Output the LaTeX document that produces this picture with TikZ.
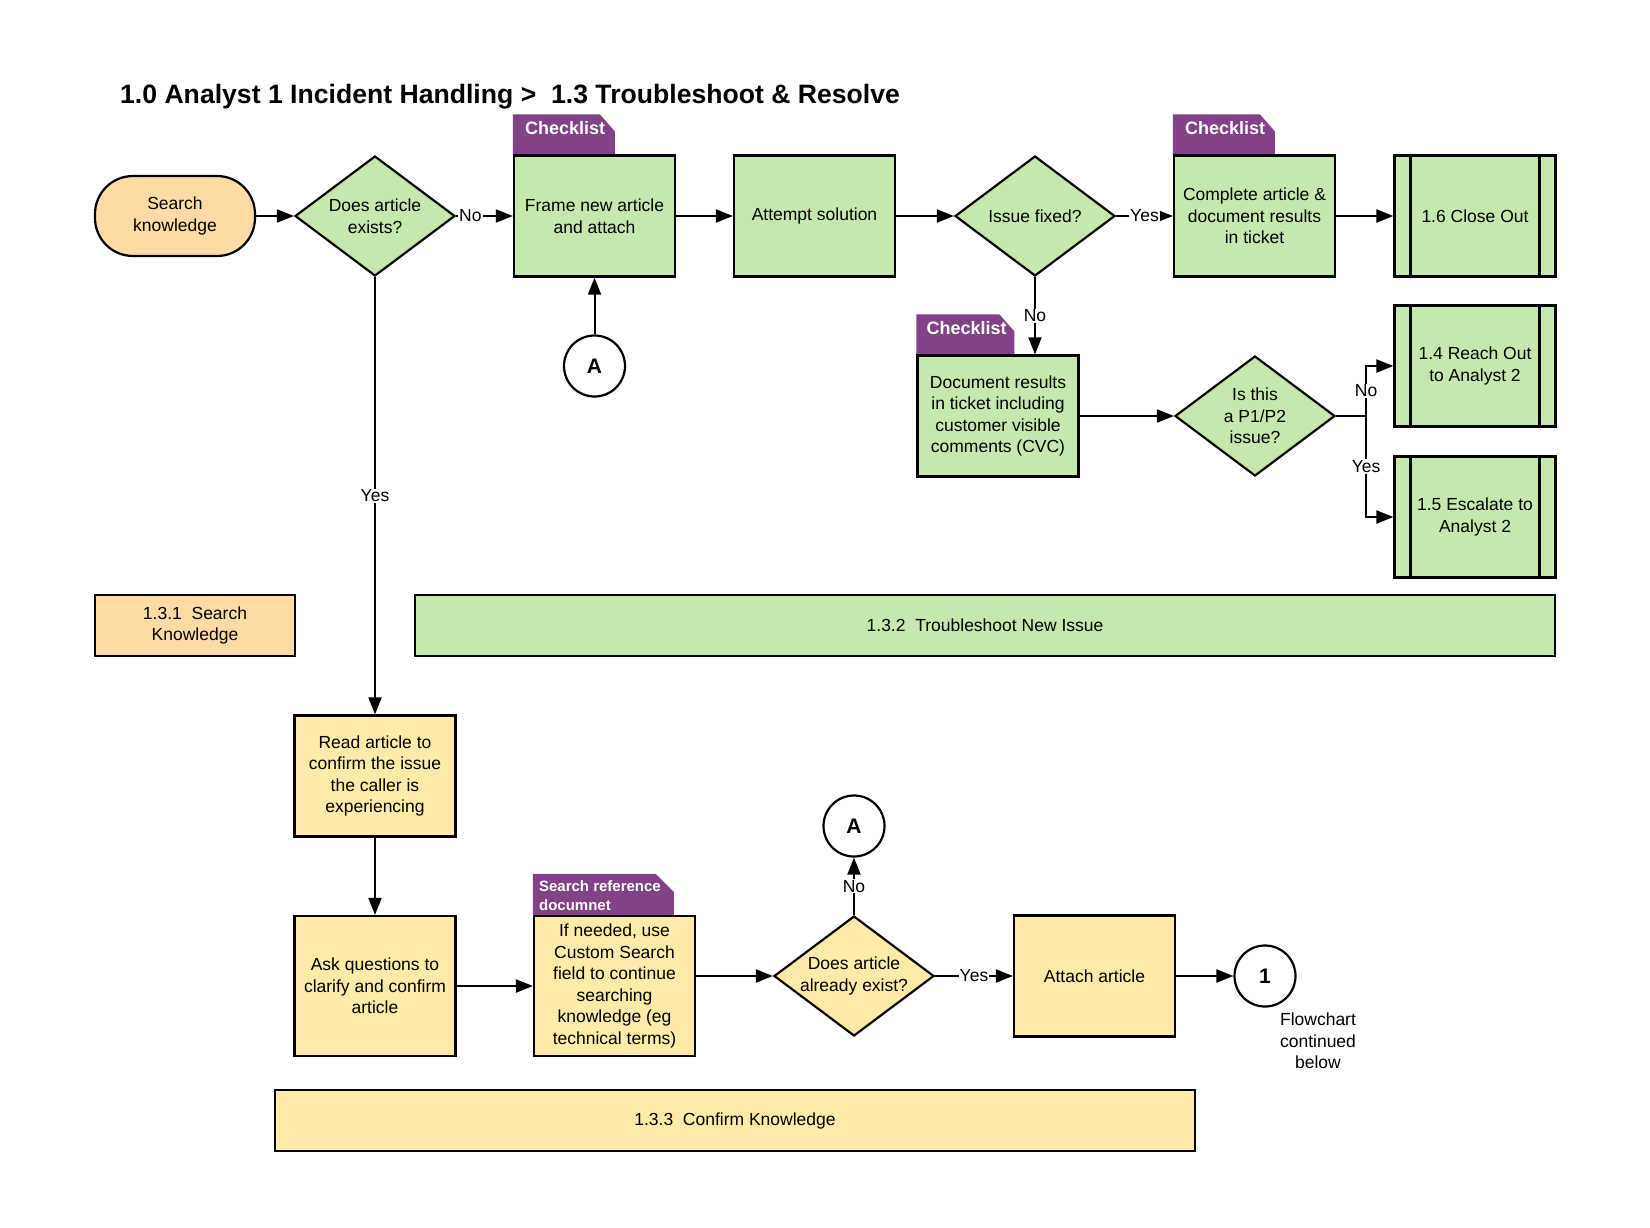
\documentclass[tikz,border=0pt]{standalone}
\usepackage{fontspec}
\setmainfont{Liberation Sans}
\usetikzlibrary{shapes.geometric,arrows.meta,calc,backgrounds}
\definecolor{lgreen}{HTML}{C7E8AC}
\definecolor{lpeach}{HTML}{FFDAA5}
\definecolor{lyellow}{HTML}{FFEBA7}
\definecolor{tabpurple}{HTML}{834187}
\begin{document}
\begin{tikzpicture}[x=1pt,y=-1pt,
  every node/.style={font=\fontsize{17.5}{21.5}\selectfont},
  box/.style={draw, line width=2.2pt, rectangle, minimum width=161pt, minimum height=121pt, inner sep=0pt, align=center},
  gbox/.style={box, fill=lgreen},
  ybox/.style={box, fill=lyellow},
  subproc/.style={box, fill=lgreen, path picture={
      \draw[line width=2.2pt] ([xshift=16pt]path picture bounding box.north west) -- ([xshift=16pt]path picture bounding box.south west);
      \draw[line width=2.2pt] ([xshift=-16pt]path picture bounding box.north east) -- ([xshift=-16pt]path picture bounding box.south east);}},
  term/.style={draw, line width=2.2pt, rectangle, rounded corners=38pt, minimum width=160pt, minimum height=80pt, fill=lpeach, align=center, inner sep=0pt},
  dec/.style={draw, line width=2.2pt, diamond, aspect=1.333, minimum width=160pt, minimum height=120pt, inner sep=0pt, align=center},
  conn/.style={draw, line width=2.2pt, circle, fill=white, minimum size=61pt, inner sep=0pt, font=\fontsize{21}{24}\selectfont\bfseries},
  bar/.style={draw, line width=2.2pt, rectangle, minimum height=61pt, inner sep=0pt, align=center},
  arr/.style={line width=2pt, -{Triangle[length=17pt,width=13pt]}},
  lbl/.style={fill=white, inner sep=1pt},
  tabtext/.style={text=white, font=\fontsize{18}{21}\selectfont\bfseries, inner sep=0pt, anchor=west, align=left},
  tabsmall/.style={tabtext, font=\fontsize{15}{19}\selectfont\bfseries}
]
\useasboundingbox (0,0) rectangle (1650,1227);

% title
\node[anchor=base west, inner sep=0pt, font=\fontsize{26.6}{30}\selectfont\bfseries] (title) at (120,103)
  {1.0 Analyst 1 Incident Handling >~ 1.3 Troubleshoot \& Resolve};

% top row
\node[term] (sk) at (175,216) {Search\\knowledge};
\node[dec, fill=lgreen] (d1) at (375,216) {Does article\\exists?};
\node[gbox] (frame) at (594.5,216) {Frame new article\\and attach};
\node[gbox] (attempt) at (814.5,216) {Attempt solution};
\node[dec, fill=lgreen] (fixed) at (1035,216) {Issue fixed?};
\node[gbox] (complete) at (1254.5,216) {Complete article \&\\document results\\in ticket};
\node[subproc] (close) at (1475,216) {1.6 Close Out};

\node[conn] (Aup) at (594.5,366) {A};

% second row
\node[gbox] (docres) at (998,416) {Document results\\in ticket including\\customer visible\\comments (CVC)};
\node[dec, fill=lgreen] (p12) at (1255,416) {Is this\\a P1/P2\\issue?};
\node[subproc] (reach) at (1475,366) {1.4 Reach Out\\to Analyst 2};
\node[subproc] (escal) at (1475,517) {1.5 Escalate to\\Analyst 2};

% section bars
\node[bar, fill=lpeach, minimum width=200pt] (s131) at (195,625.5) {1.3.1~~Search\\Knowledge};
\node[bar, fill=lgreen, minimum width=1140pt] (s132) at (985,625.5) {1.3.2~~Troubleshoot New Issue};

% bottom part
\node[ybox] (read) at (375,776) {Read article to\\confirm the issue\\the caller is\\experiencing};
\node[ybox, minimum height=140pt] (ask) at (375,986) {Ask questions to\\clarify and confirm\\article};
\node[ybox, minimum height=140pt] (ifneeded) at (614.5,986) {If needed, use\\Custom Search\\field to continue\\searching\\knowledge (eg\\technical terms)};
\node[dec, fill=lyellow] (dd) at (854,976) {Does article\\already exist?};
\node[conn] (Adown) at (854,826) {A};
\node[ybox] (attach) at (1094.5,976) {Attach article};
\node[conn] (one) at (1265,976) {1};
\node[align=center, inner sep=0pt] (flowtxt) at (1318,1041) {Flowchart\\continued\\below};

\node[bar, fill=lyellow, minimum width=920pt] (s133) at (735,1120.5) {1.3.3~~Confirm Knowledge};

% tabs
\begin{scope}[on background layer]
  \fill[tabpurple] (frame.north west) -- ++(0,-40) -- ++(87,0) -- ++(15,17) -- ++(0,23) -- cycle;
  \fill[tabpurple] (complete.north west) -- ++(0,-40) -- ++(87,0) -- ++(15,17) -- ++(0,23) -- cycle;
  \fill[tabpurple] (docres.north west) -- ++(0,-40) -- ++(83,0) -- ++(15,17) -- ++(0,23) -- cycle;
  \fill[tabpurple] (ifneeded.north west) -- ++(0,-41) -- ++(123,0) -- ++(18,18) -- ++(0,23) -- cycle;
\end{scope}
\node[tabtext] (t1) at ($(frame.north west)+(12,-26)$) {Checklist};
\node[tabtext] (t2) at ($(complete.north west)+(12,-26)$) {Checklist};
\node[tabtext] (t3) at ($(docres.north west)+(10,-26)$) {Checklist};
\node[tabsmall] (t4) at ($(ifneeded.north west)+(6,-19)$) {Search reference\\documnet};

% connectors
\draw[arr] (sk) -- (d1);
\draw[arr] (d1) -- node[lbl, pos=0.02, anchor=west]{No} (frame);
\draw[arr] (frame) -- (attempt);
\draw[arr] (attempt) -- (fixed);
\draw[arr] (fixed) -- node[lbl]{Yes} (complete);
\draw[arr] (complete) -- (close);
\draw[arr] (Aup) -- (frame);
\draw[arr] (fixed.south) -- node[lbl]{No} (fixed.south |- docres.north);
\draw[arr] (docres) -- (p12);
\coordinate (br) at ($(p12.east)+(30,0)$);
\draw[line width=2pt] (p12.east) -- (br);
\draw[arr] (br) -- node[lbl, pos=0.5]{No} (br |- reach.west) -- (reach.west);
\draw[arr] (br) -- node[lbl, pos=0.5]{Yes} (br |- escal.west) -- (escal.west);
\draw[arr] (d1) -- node[lbl]{Yes} (read);
\draw[arr] (read) -- (ask);
\draw[arr] (ask) -- (ifneeded);
\draw[arr] (ifneeded.east |- dd.west) -- (dd.west);
\draw[arr] (dd) -- node[lbl]{No} (Adown);
\draw[arr] (dd) -- node[lbl]{Yes} (attach);
\draw[arr] (attach) -- (one);
\end{tikzpicture}
\end{document}
